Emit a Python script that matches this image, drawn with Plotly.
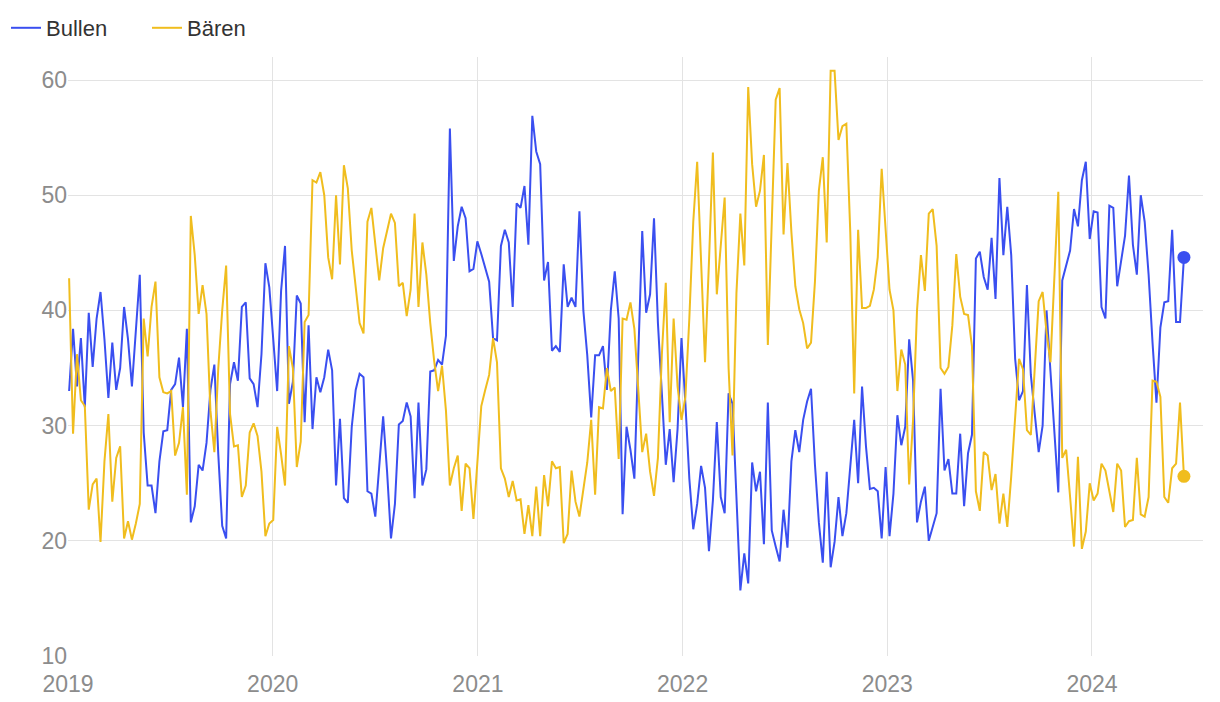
import pandas as pd
import plotly.graph_objects as go

start_date = "2019-01-03"
n_weeks = 285

bullen = [
    33.0, 38.4, 33.4, 37.6, 31.6, 39.8, 35.1, 39.3, 41.6, 37.5, 32.4, 37.2, 33.1, 35.0, 40.3, 37.5, 33.4, 38.7, 43.1, 29.4, 24.8, 24.8, 22.4,
    26.9, 29.5, 29.6, 33.1, 33.6, 35.9, 31.6, 38.4, 21.6, 23.0, 26.6, 26.1, 28.5, 33.1, 35.3, 27.5, 21.3, 20.2, 33.6, 35.5, 33.9, 40.3, 40.7, 34.1,
    33.6, 31.6, 36.2, 44.1, 42.0, 37.2, 33.0, 41.7, 45.6, 31.9, 33.8, 41.3, 40.6, 30.3, 38.7, 29.7, 34.2, 32.9, 34.2, 36.6, 34.8, 24.8, 30.6, 23.7,
    23.3, 29.9, 33.1, 34.5, 34.2, 24.3, 24.1, 22.1, 26.9, 30.8, 26.0, 20.2, 23.2, 30.1, 30.4, 32.0, 30.8, 23.7, 32.0, 24.8, 26.2, 34.7, 34.8, 35.7,
    35.3, 37.8, 55.8, 44.3, 47.3, 49.0, 48.0, 43.4, 43.6, 46.0, 44.9, 43.7, 42.5, 37.6, 37.4, 45.6, 47.0, 45.9, 40.3, 49.3, 48.9, 50.8, 45.7, 56.9,
    53.8, 52.7, 42.6, 44.2, 36.5, 36.9, 36.4, 44.0, 40.3, 41.1, 40.3, 48.6, 40.0, 36.1, 30.7, 36.1, 36.1, 36.9, 33.1, 40.0, 43.4, 39.3, 22.3,
    29.9, 27.9, 25.4, 36.1, 46.9, 39.8, 41.4, 48.0, 38.9, 32.8, 26.6, 29.7, 25.1, 29.7, 37.6, 31.9, 25.4, 21.0, 23.2, 26.5, 24.6, 19.1, 23.5, 30.3,
    23.8, 22.4, 32.8, 31.9, 24.2, 15.7, 18.9, 16.3, 26.8, 24.3, 26.0, 19.7, 32.0, 20.9, 19.5, 18.2, 22.7, 19.4, 26.9, 29.6, 27.7, 30.5, 32.1, 33.2,
    26.6, 21.6, 18.1, 26.0, 17.7, 19.9, 23.8, 20.4, 22.4, 26.3, 30.5, 25.0, 33.4, 28.2, 24.5, 24.6, 24.3, 20.2, 26.4, 20.4, 24.1, 30.9, 28.3, 29.9,
    37.5, 33.9, 21.6, 23.4, 24.7, 20.0, 21.2, 22.4, 33.2, 26.1, 27.1, 24.1, 24.1, 29.3, 23.0, 27.6, 29.2, 44.5, 45.1, 42.9, 41.8, 46.3, 41.0, 51.5,
    44.8, 49.0, 44.8, 35.8, 32.2, 33.0, 42.2, 34.4, 31.0, 27.7, 30.0, 40.0, 34.7, 29.5, 24.2, 42.6, 43.9, 45.2, 48.8, 47.3, 51.3, 52.9, 46.2, 48.6,
    48.5, 40.3, 39.3, 49.1, 48.9, 42.1, 44.3, 46.5, 51.7, 45.7, 43.1, 50.0, 47.7, 43.1, 37.2, 32.0, 38.5, 40.7, 40.8, 47.0, 39.0, 39.0, 44.6,
]

baeren = [
    42.8, 29.3, 36.2, 32.2, 31.7, 22.7, 24.9, 25.4, 19.9, 26.9, 31.0, 23.4, 27.2, 28.2, 20.2, 21.7, 20.1, 21.5, 23.2, 39.3, 36.0, 40.3, 42.5,
    34.2, 32.9, 32.8, 33.0, 27.4, 28.5, 31.6, 24.0, 48.2, 44.8, 39.7, 42.2, 39.7, 31.3, 27.7, 35.0, 40.0, 43.9, 31.0, 28.2, 28.3, 23.8, 24.8, 29.4,
    30.2, 29.1, 26.0, 20.4, 21.5, 21.8, 29.9, 27.5, 24.8, 36.9, 35.0, 26.4, 28.6, 39.0, 39.6, 51.3, 51.1, 52.0, 50.0, 44.6, 42.7, 50.0, 44.0, 52.6,
    50.6, 45.2, 42.1, 38.9, 38.0, 47.7, 48.9, 45.9, 42.6, 45.4, 46.8, 48.4, 47.6, 42.1, 42.4, 39.5, 41.8, 48.4, 40.3, 45.9, 43.1, 38.9, 35.6, 33.0,
    35.2, 31.3, 24.8, 26.3, 27.4, 22.6, 26.7, 26.3, 21.9, 26.9, 31.7, 33.1, 34.4, 37.6, 35.5, 26.3, 25.4, 23.8, 25.2, 23.5, 23.6, 20.6, 23.1, 20.4,
    24.7, 20.4, 25.7, 23.0, 26.9, 26.3, 26.4, 19.8, 20.6, 26.1, 23.4, 22.1, 24.6, 26.8, 30.5, 24.0, 31.6, 31.5, 35.0, 33.0, 33.3, 27.1, 39.3,
    39.2, 40.7, 38.4, 33.1, 27.7, 29.3, 26.0, 23.9, 27.2, 36.2, 42.4, 30.3, 39.3, 33.4, 30.5, 32.5, 39.3, 47.7, 52.9, 44.2, 35.5, 44.2, 53.7, 41.4,
    45.9, 49.8, 35.0, 27.4, 41.5, 48.4, 43.9, 59.4, 52.7, 49.0, 50.4, 53.5, 37.0, 47.7, 58.3, 59.3, 46.6, 52.8, 46.8, 42.1, 40.1, 38.9, 36.7, 37.2,
    42.5, 50.4, 53.3, 45.9, 60.8, 60.8, 54.8, 56.0, 56.2, 46.8, 32.8, 47.0, 40.2, 40.2, 40.4, 41.8, 44.6, 52.3, 47.1, 41.8, 40.0, 33.0, 36.6, 35.3,
    24.9, 30.5, 40.0, 44.8, 41.7, 48.4, 48.8, 45.6, 35.0, 34.5, 35.1, 38.7, 44.9, 41.2, 39.7, 39.6, 36.9, 24.3, 22.6, 27.7, 27.4, 24.4, 25.8, 21.5,
    24.1, 21.2, 25.6, 31.1, 35.8, 34.9, 29.6, 29.2, 35.0, 40.8, 41.6, 38.1, 35.5, 43.4, 50.3, 27.2, 27.9, 23.8, 19.5, 27.3, 19.3, 20.8, 25.0, 23.5,
    24.1, 26.7, 26.1, 24.3, 22.5, 26.7, 26.1, 21.2, 21.7, 21.8, 27.2, 22.3, 22.1, 23.8, 33.9, 33.8, 32.5, 23.8, 23.3, 26.3, 26.7, 32.0, 25.6,
]

series_names = ["Bullen", "Bären"]
y_ticks = [10, 20, 30, 40, 50, 60]

dates = pd.date_range(start_date, periods=n_weeks, freq="7D")

BLUE = "#3a4ff0"
YELLOW = "#f0bd1e"

fig = go.Figure()
for name, vals, col in [(series_names[0], bullen, BLUE), (series_names[1], baeren, YELLOW)]:
    fig.add_trace(go.Scatter(x=dates, y=vals, mode="lines", name=name,
                             line=dict(color=col, width=2)))
for vals, col in [(bullen, BLUE), (baeren, YELLOW)]:
    fig.add_trace(go.Scatter(x=[dates[-1]], y=[vals[-1]], mode="markers",
                             marker=dict(color=col, size=13), showlegend=False))

fig.update_layout(
    width=1220, height=702,
    margin=dict(l=68, r=17, t=57, b=46, autoexpand=False),
    paper_bgcolor="white", plot_bgcolor="white",
    font=dict(family="Liberation Sans, Arial, sans-serif", size=23, color="#8c8c8c"),
    legend=dict(orientation="h", xref="container", yref="container",
                x=6 / 1220, y=1 - 7 / 702, xanchor="left", yanchor="top",
                font=dict(size=22, color="#333333"), itemwidth=30,
                entrywidth=96, entrywidthmode="pixels", traceorder="normal"),
    showlegend=True,
)
fig.update_xaxes(
    range=["2019-01-01", "2024-07-17"], automargin=False,
    dtick="M12", tick0="2019-01-01", tickformat="%Y",
    showgrid=True, gridcolor="#e3e3e3", gridwidth=1,
    zeroline=False, showline=False, ticks="outside", ticklen=7, tickcolor="rgba(0,0,0,0)",
)
fig.update_yaxes(
    range=[10, 62], tickvals=y_ticks, automargin=False,
    showgrid=True, gridcolor="#e3e3e3", gridwidth=1,
    zeroline=False, showline=False, ticks="",
)

fig.write_html("out.html")
